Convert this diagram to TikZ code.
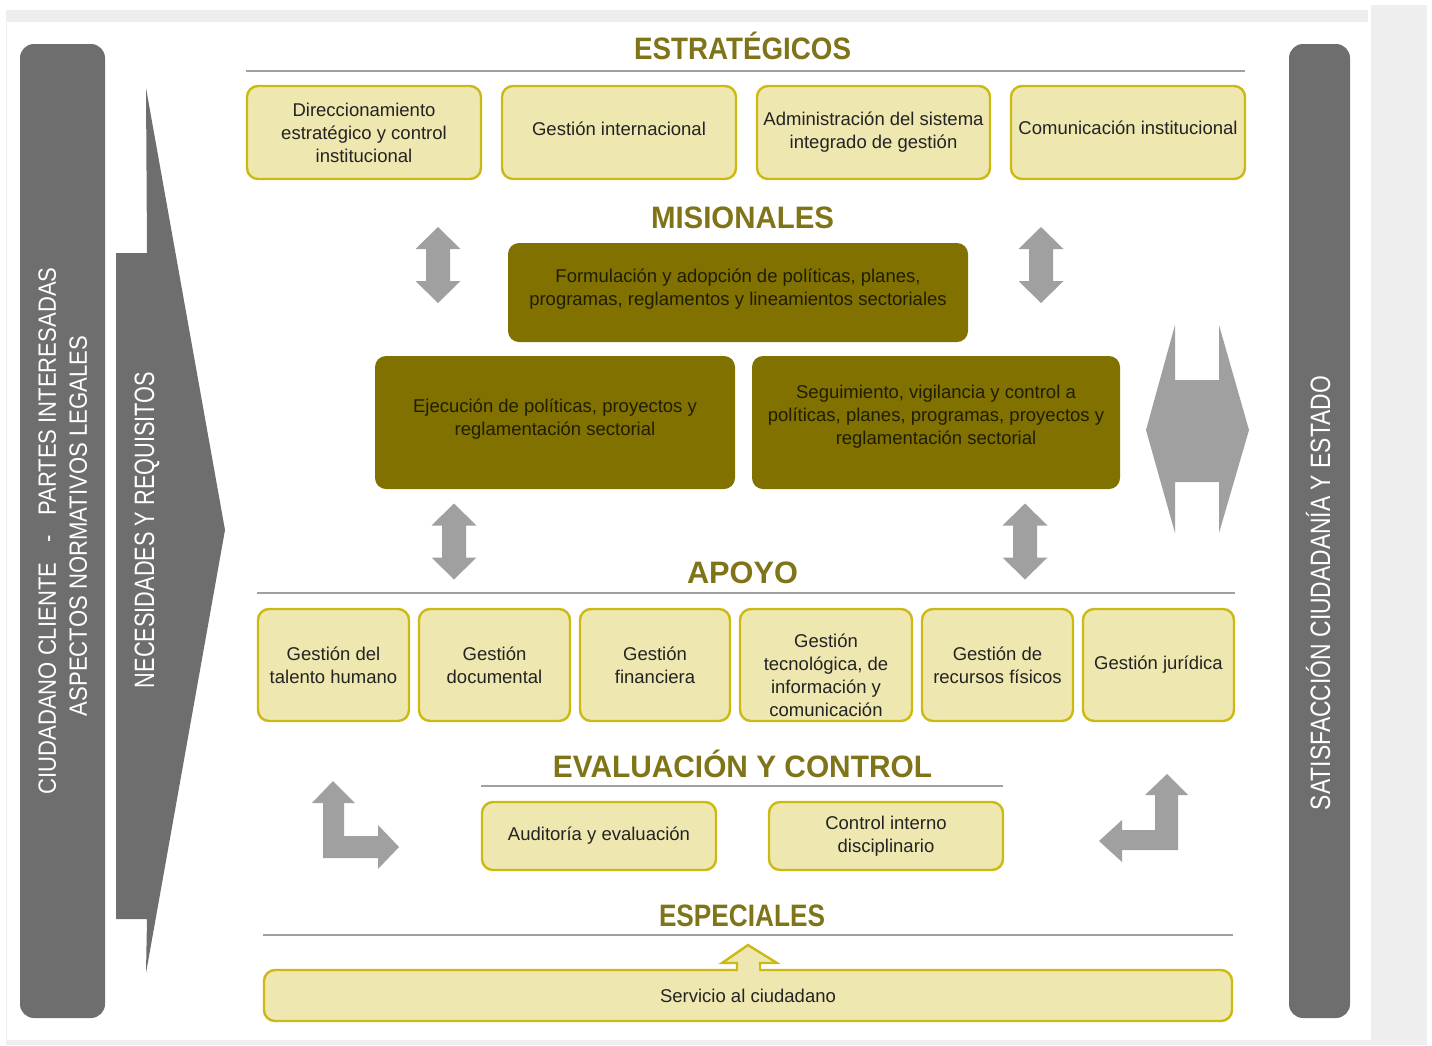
\documentclass[tikz,border=0pt]{standalone}
\usepackage{fontspec}
\setmainfont{Liberation Sans}
\usepackage{graphicx}
\definecolor{boxfill}{RGB}{238,231,176}
\definecolor{boxline}{RGB}{205,185,20}
\definecolor{darkbox}{RGB}{128,113,0}
\definecolor{darktxt}{RGB}{32,30,0}
\definecolor{headcol}{RGB}{128,116,24}
\definecolor{bargray}{RGB}{110,110,110}
\definecolor{arrgray}{RGB}{160,160,160}
\definecolor{rulegray}{RGB}{160,160,160}
\definecolor{framegray}{RGB}{238,238,238}
\definecolor{bodytxt}{RGB}{35,35,35}
% struts that move a box text up (depth on last line) or down (height on first line)
\newcommand\txtup[1]{\rule[-#1]{0pt}{#1}}
\newcommand\txtdown[1]{\rule{0pt}{#1}}
\begin{document}
\begin{tikzpicture}[x=1pt,y=-1pt,
  lbox/.style={draw=boxline, fill=boxfill, line width=2.4pt, rounded corners=11pt,
    text=bodytxt, align=center, font=\fontsize{18.5}{23}\selectfont, inner sep=0pt},
  dbox/.style={fill=darkbox, rounded corners=11pt, text=darktxt, align=center,
    font=\fontsize{18.5}{23}\selectfont, inner sep=0pt},
  head/.style={text=headcol, font=\fontsize{31}{31}\selectfont\bfseries, anchor=base, inner sep=0pt},
  vtext/.style={text=white, rotate=90, inner sep=0pt, text depth=0pt},
  rulel/.style={draw=rulegray, line width=2pt},
  vdarr/.pic={\fill[arrgray] (0,-38) -- (22.5,-16) -- (12,-16) -- (12,16) -- (22.5,16) -- (0,38)
     -- (-22.5,16) -- (-12,16) -- (-12,-16) -- (-22.5,-16) -- cycle;}
]
\useasboundingbox (0,0) rectangle (1432,1045);
% frame
\fill[framegray] (6,10) rectangle (1368,22);
\fill[framegray] (1371,5) rectangle (1427,1045);
\fill[framegray] (6,1040) rectangle (1371,1045);
\draw[framegray, line width=1pt] (6.5,22) -- (6.5,1040);

% side bars
\fill[bargray, rounded corners=14pt] (20,44) rectangle (105,1018);
\fill[bargray, rounded corners=14pt] (1289,44) rectangle (1350,1018);
\fill[bargray] (116,253) -- (147,253) -- (146,88) -- (225,530) -- (146,973) -- (147,919) -- (116,919) -- cycle;

\node[vtext, font=\fontsize{25}{25}\selectfont, text height=17.9pt] (cli) at (47,531)
  {\resizebox{527pt}{\height}{CIUDADANO CLIENTE\hspace{0.9em}-\hspace{0.9em}PARTES INTERESADAS}};
\node[vtext, font=\fontsize{25}{25}\selectfont, text height=17.9pt] (asp) at (78,526)
  {\resizebox{380pt}{\height}{ASPECTOS NORMATIVOS LEGALES}};
\node[vtext, font=\fontsize{28}{28}\selectfont, text height=20pt] (nec) at (144,530)
  {\resizebox{316pt}{\height}{NECESIDADES Y REQUISITOS}};
\node[vtext, font=\fontsize{28}{28}\selectfont, text height=20pt] (sat) at (1320,593)
  {\resizebox{434pt}{\height}{SATISFACCIÓN CIUDADANÍA Y ESTADO}};

% headings and rules
\node[head] (hest) at (742.5,59) {\resizebox{217pt}{\height}{ESTRATÉGICOS}};
\draw[rulel] (246,71) -- (1245,71);
\node[head] (hmis) at (742.5,228) {\resizebox{183pt}{\height}{MISIONALES}};
\node[head] (hapo) at (742.5,583) {\resizebox{111pt}{\height}{APOYO}};
\draw[rulel] (257,593) -- (1235,593);
\node[head] (heva) at (742.5,777) {\resizebox{379pt}{\height}{EVALUACIÓN Y CONTROL}};
\draw[rulel] (481,786) -- (1003,786);
\node[head] (hesp) at (742,926) {\resizebox{166pt}{\height}{ESPECIALES}};
\draw[rulel] (263,935) -- (1233,935);

% estrategicos
\node[lbox, minimum width=234pt, minimum height=93pt] (e1) at (364,132.5)
  {Direccionamiento\\estratégico y control\\institucional};
\node[lbox, minimum width=234pt, minimum height=93pt] (e2) at (619,132.5)
  {Gestión internacional\txtup{8pt}};
\node[lbox, minimum width=233pt, minimum height=93pt] (e3) at (873.5,132.5)
  {Administración del sistema\\integrado de gestión};
\node[lbox, minimum width=234pt, minimum height=93pt] (e4) at (1128,132.5)
  {Comunicación institucional\txtup{10pt}};

% misionales
\node[dbox, minimum width=460pt, minimum height=99pt] (m1) at (738,292.5)
  {Formulación y adopción de políticas, planes,\\programas, reglamentos y lineamientos sectoriales\txtup{10pt}};
\node[dbox, minimum width=360pt, minimum height=133pt] (m2) at (555,422.5)
  {Ejecución de políticas, proyectos y\\reglamentación sectorial\txtup{10pt}};
\node[dbox, minimum width=368pt, minimum height=133pt] (m3) at (936,422.5)
  {Seguimiento, vigilancia y control a\\políticas, planes, programas, proyectos y\\reglamentación sectorial\txtup{16pt}};

% apoyo
\node[lbox, minimum width=151pt, minimum height=112pt] (a1) at (333.5,665) {Gestión del\\talento humano};
\node[lbox, minimum width=151pt, minimum height=112pt] (a2) at (494.5,665) {Gestión\\documental};
\node[lbox, minimum width=150pt, minimum height=112pt] (a3) at (655,665) {Gestión\\financiera};
\node[lbox, minimum width=172pt, minimum height=112pt] (a4) at (826,665)
  {\txtdown{35pt}Gestión\\tecnológica, de\\información y\\comunicación};
\node[lbox, minimum width=151pt, minimum height=112pt] (a5) at (997.5,665) {Gestión de\\recursos físicos};
\node[lbox, minimum width=151pt, minimum height=112pt] (a6) at (1158.5,665) {Gestión jurídica};

% evaluacion
\node[lbox, minimum width=234pt, minimum height=68pt] (v1) at (599,836) {Auditoría y evaluación};
\node[lbox, minimum width=234pt, minimum height=68pt] (v2) at (886,836) {Control interno\\disciplinario};

% especiales
\node[lbox, minimum width=968pt, minimum height=51pt] (s1) at (748,995.5) {Servicio al ciudadano};
\filldraw[fill=boxfill, draw=boxline, line width=2.4pt, line join=miter]
  (737,969) -- (737,963) -- (722,963) -- (748,945) -- (777,963) -- (760,963) -- (760,969);
\fill[boxfill] (738.3,966) rectangle (758.7,971.6);

% double arrows
\pic at (438,265) {vdarr};
\pic at (1041,265) {vdarr};
\pic at (454,541.5) {vdarr};
\pic at (1025,541.5) {vdarr};

% big right double arrow
\fill[arrgray] (1175,325) -- (1175,380) -- (1219,380) -- (1219,325) -- (1249,430) -- (1219,533)
  -- (1219,482) -- (1175,482) -- (1175,533) -- (1146,430) -- cycle;

% corner arrows
\fill[arrgray] (333,781) -- (355,803) -- (344,803) -- (344,836) -- (378,836) -- (378,825)
  -- (399,847) -- (378,869) -- (378,858) -- (323,858) -- (323,803) -- (312,803) -- cycle;
\fill[arrgray] (1167,774) -- (1188,795) -- (1178,795) -- (1178,850) -- (1122,850) -- (1122,862)
  -- (1099,841) -- (1122,820) -- (1122,830) -- (1155,830) -- (1155,795) -- (1145,795) -- cycle;
\end{tikzpicture}
\end{document}
